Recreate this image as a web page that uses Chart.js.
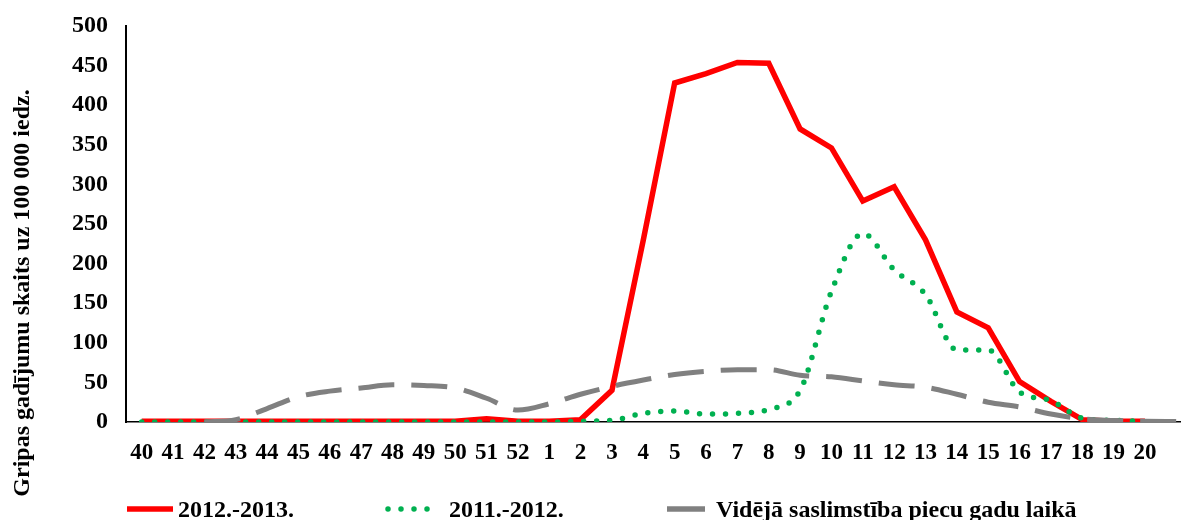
<!DOCTYPE html>
<html>
<head>
<meta charset="utf-8">
<script src="https://cdn.jsdelivr.net/npm/chart.js@4/dist/chart.umd.min.js"></script>
<style>
    html, body { margin: 0; padding: 0; background: #fff; overflow: hidden; }
    #wrap { width: 1181px; height: 520px; overflow: hidden; }
</style>
</head>
<body>
<div id="wrap"><canvas id="myChart" width="1192" height="520"></canvas></div>
<script>
// weeks 40..52, 1..21 (last one has no label)
var weeks = ["40", "41", "42", "43", "44", "45", "46", "47", "48", "49", "50", "51", "52",
    "1", "2", "3", "4", "5", "6", "7", "8", "9", "10", "11", "12", "13", "14", "15", "16", "17", "18", "19", "20", ""];
var season1213 = [1, 1, 1, 1, 1, 1, 1, 1, 1, 1, 1, 4, 1,
    1, 3, 40, 230, 428, 440, 454, 453, 370, 346, 279, 297, 230, 139, 119, 51, 26, 3, 1, 1, null];
var season1112 = [0, 0, 0, 0, 0, 0, 0, 0, 0, 0, 0, 0, 0,
    0, 1, 2, 11, 14, 10, 11, 16, 40, 165, 238, 192, 161, 91, 91, 38, 27, 5, 2, 1, null];
var average5y = [null, null, 0, 3, 17, 32, 39, 43, 47, 46, 43, 30, 15,
    23, 35, 45, 53, 60, 64, 66, 66, 59, 57, 52, 47, 44, 35, 25, 19, 10, 4, 2, 1, 0.5];
var yTitle = "Gripas gadījumu skaits uz 100 000 iedz.";
var seriesNames = ["2012.-2013.", "2011.-2012.", "Vidējā saslimstība piecu gadu laikā"];

var fontFam = "'Liberation Serif', 'Times New Roman', serif";

// y axis title and legend drawn by hand, like the excel picture
var extras = {
    id: "extras",
    afterDraw: function(chart) {
        var ctx = chart.ctx;
        ctx.save();
        ctx.fillStyle = "#000";
        ctx.font = "bold 24px " + fontFam;
        ctx.translate(23, 293);
        ctx.rotate(-Math.PI / 2);
        ctx.textAlign = "center";
        ctx.textBaseline = "middle";
        ctx.fillText(yTitle, 0, 0);
        ctx.restore();

        var ly = 509;
        var items = [
            { x1: 127, x2: 173, tx: 178, color: "#FF0000", dash: [], cap: "butt" },
            { x1: 388, x2: 440, tx: 449, color: "#00B050", dash: [0, 13], cap: "round" },
            { x1: 667, x2: 705, tx: 716, color: "#808080", dash: [], cap: "butt" }
        ];
        ctx.save();
        items.forEach(function(it, i) {
            ctx.beginPath();
            ctx.strokeStyle = it.color;
            ctx.lineWidth = 5.5;
            ctx.lineCap = it.cap;
            ctx.setLineDash(it.dash);
            ctx.moveTo(it.x1, ly);
            ctx.lineTo(it.x2, ly);
            ctx.stroke();
            ctx.setLineDash([]);
            ctx.fillStyle = "#000";
            ctx.font = "bold 24px " + fontFam;
            ctx.textAlign = "left";
            ctx.textBaseline = "middle";
            ctx.fillText(seriesNames[i], it.tx, ly + 2);
        });
        ctx.restore();
    }
};

var ctx = document.getElementById("myChart").getContext("2d");
var chart = new Chart(ctx, {
    type: "line",
    data: {
        labels: weeks,
        datasets: [{
                label: seriesNames[0],
                data: season1213,
                borderColor: "#FF0000",
                borderWidth: 5.5,
                pointRadius: 0,
                tension: 0,
                order: 3
            },
            {
                label: seriesNames[1],
                data: season1112,
                borderColor: "#00B050",
                borderWidth: 5.5,
                borderDash: [0, 13],
                borderCapStyle: "round",
                pointRadius: 0,
                cubicInterpolationMode: "monotone",
                order: 2
            },
            {
                label: seriesNames[2],
                data: average5y,
                borderColor: "#808080",
                borderWidth: 5,
                borderDash: [36, 17],
                pointRadius: 0,
                cubicInterpolationMode: "monotone",
                order: 1
            }
        ]
    },
    options: {
        responsive: false,
        animation: false,
        devicePixelRatio: 1,
        layout: { padding: { top: 26, bottom: 18, left: 0, right: 0 } },
        plugins: {
            legend: { display: false },
            tooltip: { enabled: false }
        },
        scales: {
            x: {
                type: "category",
                offset: true,
                grid: { display: false, drawTicks: false },
                border: { display: true, color: "#000", width: 1.5 },
                ticks: {
                    color: "#000",
                    font: { family: fontFam, size: 23, weight: "bold" },
                    padding: 17,
                    autoSkip: false,
                    maxRotation: 0
                },
                afterFit: function(scale) {
                    scale.height = 80;
                    scale.paddingLeft = 0;
                    scale.paddingRight = 0;
                }
            },
            y: {
                min: 0,
                max: 500,
                grid: { display: false, drawTicks: false },
                border: { display: true, color: "#000", width: 2 },
                ticks: {
                    stepSize: 50,
                    color: "#000",
                    font: { family: fontFam, size: 24, weight: "bold" },
                    padding: 18
                },
                afterFit: function(scale) {
                    scale.width = 126;
                    scale.paddingTop = 0;
                    scale.paddingBottom = 0;
                }
            }
        }
    },
    plugins: [extras]
});
</script>
</body>
</html>
